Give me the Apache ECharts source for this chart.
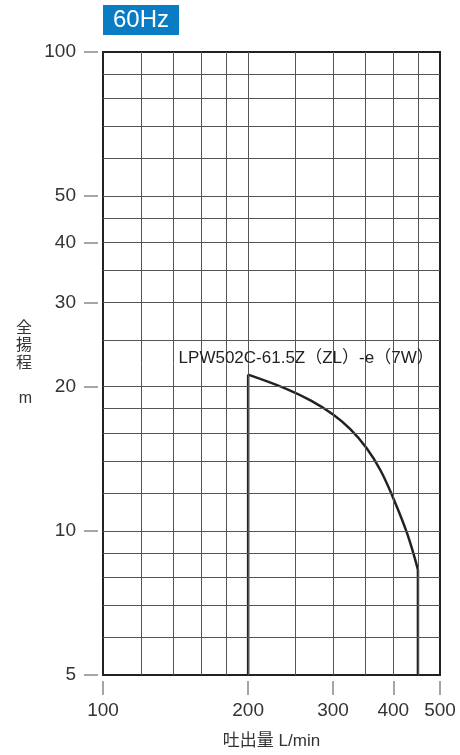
<!DOCTYPE html>
<html><head><meta charset="utf-8">
<script src="https://cdn.jsdelivr.net/npm/echarts@6/dist/echarts.min.js"></script>
<style>html,body{margin:0;padding:0;background:#fff}#c{width:460px;height:755px}</style>
</head><body><div id="c"></div>
<script>
// ---- data ----
const flowTicks = [100, 200, 300, 400, 500];
const headTicks = [5, 10, 20, 30, 40, 50, 100];
const flowGrid = [120, 140, 160, 180, 200, 250, 300, 350, 400, 450];
const headGrid = [6, 7, 8, 9, 10, 12, 14, 16, 18, 20, 25, 30, 35, 40, 45, 50, 60, 70, 80, 90];
const curveFlow = [200, 240, 270, 300, 325, 352, 376, 400, 427, 450];
const curveHead = [21.2, 19.8, 18.7, 17.5, 16.35, 14.9, 13.4, 11.7, 9.9, 8.3];
const curveName = 'LPW502C-61.5Z（ZL）-e（7W）';
const titleText = '60Hz';
const xName = '吐出量 L/min';
const yName = '全\n揚\n程\n\nm';

const FONT = '"Liberation Sans", "Noto Sans CJK JP", sans-serif';
const headMin = headTicks[0], headMax = headTicks[headTicks.length - 1];
const flowMin = flowTicks[0], flowMax = flowTicks[flowTicks.length - 1];
const nLast = curveFlow.length - 1;

const chart = echarts.init(document.getElementById('c'), null, { renderer: 'canvas' });
chart.setOption({
  animation: false,
  backgroundColor: '#fff',
  title: {
    text: titleText, left: 103, top: 5,
    backgroundColor: '#0A7CC4', padding: [3, 10, 3, 10],
    textStyle: { color: '#fff', fontSize: 24, lineHeight: 24, fontWeight: 'normal', fontFamily: FONT }
  },
  grid: { left: 103, right: 20, top: 52, bottom: 78, show: true, borderColor: '#222', borderWidth: 2, backgroundColor: 'transparent' },
  xAxis: {
    type: 'log', logBase: 10, min: flowMin, max: flowMax, offset: 6,
    axisLine: { show: false },
    axisTick: { show: true, length: 14, customValues: flowTicks, lineStyle: { color: '#888', width: 1.5 } },
    axisLabel: { customValues: flowTicks, margin: 20, fontSize: 19, color: '#333', fontFamily: FONT },
    splitLine: { show: false }, minorTick: { show: false }, minorSplitLine: { show: false },
    name: xName, nameLocation: 'middle', nameGap: 52,
    nameTextStyle: { fontSize: 17, color: '#333', fontFamily: FONT }
  },
  yAxis: {
    type: 'log', logBase: 10, min: headMin, max: headMax, offset: 5,
    axisLine: { show: false },
    axisTick: { show: true, length: 14, customValues: headTicks, lineStyle: { color: '#888', width: 1.5 } },
    axisLabel: { customValues: headTicks, margin: 22, fontSize: 19, color: '#333', fontFamily: FONT },
    splitLine: { show: false }, minorTick: { show: false }, minorSplitLine: { show: false },
    name: yName, nameLocation: 'middle', nameRotate: 0, nameGap: 66,
    nameTextStyle: { fontSize: 16, lineHeight: 17.5, color: '#333', fontFamily: FONT }
  },
  series: [
    {
      type: 'line', data: [], z: 1, silent: true,
      markLine: {
        silent: true, symbol: ['none', 'none'], label: { show: false },
        lineStyle: { color: '#555', width: 1, type: 'solid' },
        emphasis: { disabled: true },
        data: flowGrid.map(v => ({ xAxis: v })).concat(headGrid.map(v => ({ yAxis: v })))
      }
    },
    {
      type: 'line', z: 3, silent: true, symbol: 'none',
      lineStyle: { color: '#222', width: 2.5 },
      data: [[curveFlow[0], headMin], [curveFlow[0], curveHead[0]]]
    },
    {
      type: 'line', z: 3, silent: true, symbol: 'none',
      lineStyle: { color: '#222', width: 2.5 },
      data: [[curveFlow[nLast], curveHead[nLast]], [curveFlow[nLast], headMin]]
    },
    {
      type: 'line', z: 4, silent: true, smooth: 0.4, symbol: 'none',
      lineStyle: { color: '#222', width: 2.5 },
      data: curveFlow.map((x, i) => [x, curveHead[i]]),
      markPoint: {
        silent: true, symbol: 'circle', symbolSize: 0,
        itemStyle: { color: 'transparent' },
        label: {
          show: true, position: 'top', distance: 8, offset: [58, 0],
          formatter: curveName, fontSize: 17, color: '#222', fontFamily: FONT
        },
        data: [{ coord: [curveFlow[0], curveHead[0]] }]
      }
    }
  ]
});
</script>
</body></html>
